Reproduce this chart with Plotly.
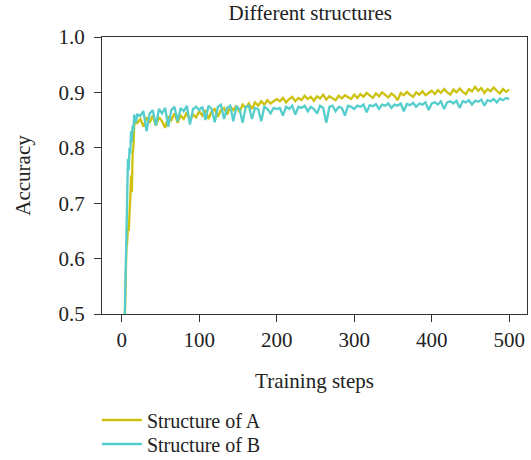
import plotly.graph_objects as go

# Training steps (x positions of the sampled readings)
steps = list(range(1, 17)) + [18, 20] + list(range(24, 501, 4))

acc_a = [
    0.30, 0.37, 0.43, 0.49, 0.56, 0.62, 0.63, 0.66, 0.65, 0.70, 0.71, 0.75, 0.72, 0.79, 0.80, 0.84, 0.85, 0.845,
    0.852, 0.838, 0.855, 0.845, 0.858, 0.840, 0.855, 0.848, 0.836, 0.857, 0.850, 0.862, 0.845, 0.858, 0.852, 0.864, 0.848, 0.860, 0.855, 0.866,
    0.858, 0.868, 0.852, 0.866, 0.870, 0.856, 0.868, 0.872, 0.860, 0.874, 0.868, 0.876, 0.864, 0.878, 0.872, 0.880, 0.870, 0.882, 0.876, 0.884, 0.878, 0.886, 0.880, 0.884, 0.888,
    0.884, 0.890, 0.882, 0.888, 0.892, 0.884, 0.890, 0.886, 0.894, 0.888, 0.892, 0.885, 0.893, 0.889, 0.896, 0.887, 0.893, 0.890, 0.886, 0.894, 0.889, 0.895, 0.891, 0.888, 0.896,
    0.890, 0.897, 0.892, 0.899, 0.894, 0.890, 0.898, 0.893, 0.900, 0.895, 0.891, 0.898, 0.894, 0.886, 0.899, 0.895, 0.901, 0.896, 0.892, 0.900, 0.896, 0.902, 0.895, 0.899, 0.903,
    0.897, 0.904, 0.899, 0.906, 0.900, 0.896, 0.905, 0.900, 0.907, 0.901, 0.897, 0.906, 0.902, 0.910, 0.903, 0.908, 0.899, 0.906, 0.902, 0.909, 0.903, 0.898, 0.906, 0.901, 0.905,
]

acc_b = [
    0.30, 0.38, 0.44, 0.50, 0.57, 0.63, 0.70, 0.78, 0.76, 0.80, 0.79, 0.83, 0.81, 0.84, 0.83, 0.86, 0.845, 0.86,
    0.858, 0.866, 0.830, 0.862, 0.868, 0.840, 0.870, 0.862, 0.872, 0.838, 0.868, 0.874, 0.848, 0.872, 0.866, 0.876, 0.842, 0.870, 0.874, 0.868,
    0.874, 0.850, 0.876, 0.870, 0.846, 0.874, 0.878, 0.852, 0.872, 0.876, 0.848, 0.874, 0.870, 0.845, 0.874, 0.876, 0.852, 0.872, 0.870, 0.848, 0.874, 0.870, 0.862, 0.872, 0.870,
    0.872, 0.858, 0.874, 0.870, 0.876, 0.860, 0.874, 0.872, 0.876, 0.866, 0.874, 0.870, 0.862, 0.876, 0.872, 0.845, 0.874, 0.876, 0.866, 0.874, 0.872, 0.858, 0.876, 0.874, 0.870,
    0.876, 0.874, 0.878, 0.864, 0.877, 0.875, 0.879, 0.870, 0.878, 0.876, 0.880, 0.872, 0.878, 0.876, 0.880, 0.866, 0.879, 0.877, 0.881, 0.874, 0.880, 0.878, 0.882, 0.868, 0.880,
    0.882, 0.878, 0.884, 0.870, 0.882, 0.884, 0.880, 0.885, 0.872, 0.884, 0.882, 0.886, 0.878, 0.885, 0.883, 0.887, 0.876, 0.886, 0.884, 0.888, 0.882, 0.889, 0.886, 0.890, 0.888,
]

series_names = ["Structure of A", "Structure of B"]
x_ticks = [0, 100, 200, 300, 400, 500]
y_ticks = [0.5, 0.6, 0.7, 0.8, 0.9, 1.0]

FONT = "Liberation Serif"
TXT = "#222222"
colors = ["#CBC10E", "#55CDCD"]
legend_ids = ["legend", "legend2"]

fig = go.Figure()
for name, ys, col, lg in zip(series_names, [acc_a, acc_b], colors, legend_ids):
    fig.add_trace(go.Scatter(x=steps, y=ys, mode="lines", name=name, legend=lg,
                             line=dict(color=col, width=2.3)))

axis_common = dict(showline=True, linecolor="#333333", linewidth=1.3, mirror=True,
                   ticks="outside", ticklen=7, tickwidth=1.3, tickcolor="#333333",
                   showgrid=False, zeroline=False, automargin=False,
                   tickfont=dict(family=FONT, size=21, color=TXT))

legend_common = dict(orientation="v", xref="paper", x=-0.012, xanchor="left",
                     yref="container", yanchor="middle",
                     font=dict(family=FONT, size=20, color=TXT),
                     bgcolor="rgba(0,0,0,0)", itemwidth=40)

fig.update_layout(
    width=531, height=460,
    margin=dict(l=102, r=4, t=37, b=146, autoexpand=False),
    paper_bgcolor="white", plot_bgcolor="white",
    font=dict(family=FONT, size=21, color=TXT),
    title=dict(text="Different structures", x=0.49, xref="paper", xanchor="center",
               y=0.972, yref="container", yanchor="middle",
               font=dict(family=FONT, size=21, color=TXT)),
    xaxis=dict(range=[-25.5, 523], tickvals=x_ticks,
               title=dict(text="Training steps", standoff=21,
                          font=dict(family=FONT, size=21, color=TXT)),
               **axis_common),
    yaxis=dict(range=[0.5, 1.0], tickvals=y_ticks, tickformat=".1f",
               ticklabelstandoff=5,
               title=dict(text="Accuracy", standoff=22,
                          font=dict(family=FONT, size=21, color=TXT)),
               **axis_common),
    legend=dict(y=1 - 420 / 460, **legend_common),
    legend2=dict(y=1 - 444 / 460, **legend_common),
    showlegend=True,
)

fig.write_html("out.html", config={"displayModeBar": False},
               post_script="document.body.style.margin='0';document.body.style.padding='0';")
